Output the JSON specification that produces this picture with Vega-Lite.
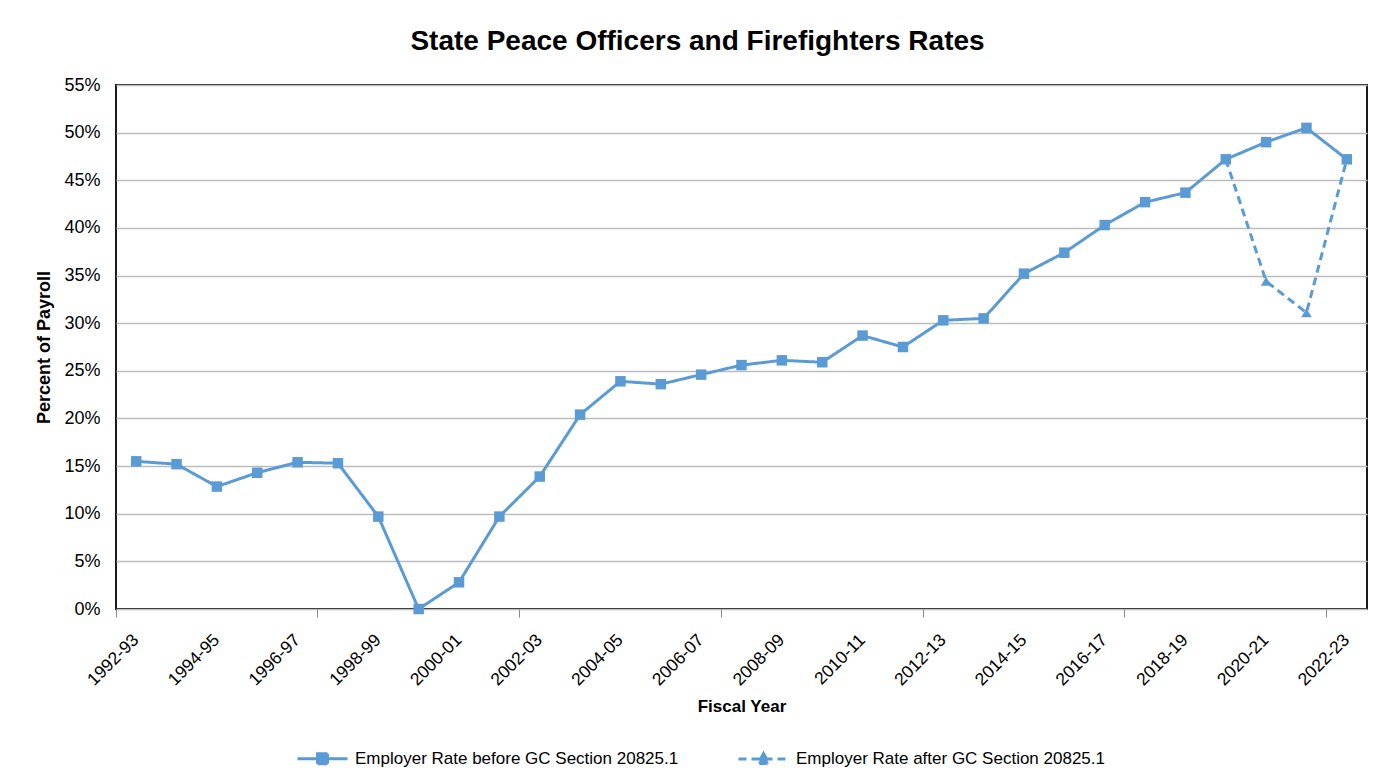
{
  "$schema": "https://vega.github.io/schema/vega-lite/v6.json",
  "width": 1251,
  "height": 524,
  "autosize": "none",
  "padding": {"left": 116, "top": 85, "right": 23, "bottom": 175},
  "background": "white",
  "title": {
    "text": "State Peace Officers and Firefighters Rates",
    "font": "Liberation Sans",
    "fontSize": 28,
    "fontWeight": "bold",
    "color": "#000000",
    "anchor": "middle",
    "dx": -44,
    "offset": 20
  },
  "data": {
    "values": [
      {"year": "1992-93", "series": "Employer Rate before GC Section 20825.1", "value": 15.5},
      {"year": "1993-94", "series": "Employer Rate before GC Section 20825.1", "value": 15.2},
      {"year": "1994-95", "series": "Employer Rate before GC Section 20825.1", "value": 12.85},
      {"year": "1995-96", "series": "Employer Rate before GC Section 20825.1", "value": 14.3},
      {"year": "1996-97", "series": "Employer Rate before GC Section 20825.1", "value": 15.4},
      {"year": "1997-98", "series": "Employer Rate before GC Section 20825.1", "value": 15.3},
      {"year": "1998-99", "series": "Employer Rate before GC Section 20825.1", "value": 9.7},
      {"year": "1999-00", "series": "Employer Rate before GC Section 20825.1", "value": 0},
      {"year": "2000-01", "series": "Employer Rate before GC Section 20825.1", "value": 2.8},
      {"year": "2001-02", "series": "Employer Rate before GC Section 20825.1", "value": 9.7},
      {"year": "2002-03", "series": "Employer Rate before GC Section 20825.1", "value": 13.9},
      {"year": "2003-04", "series": "Employer Rate before GC Section 20825.1", "value": 20.4},
      {"year": "2004-05", "series": "Employer Rate before GC Section 20825.1", "value": 23.9},
      {"year": "2005-06", "series": "Employer Rate before GC Section 20825.1", "value": 23.6},
      {"year": "2006-07", "series": "Employer Rate before GC Section 20825.1", "value": 24.6},
      {"year": "2007-08", "series": "Employer Rate before GC Section 20825.1", "value": 25.6},
      {"year": "2008-09", "series": "Employer Rate before GC Section 20825.1", "value": 26.1},
      {"year": "2009-10", "series": "Employer Rate before GC Section 20825.1", "value": 25.9},
      {"year": "2010-11", "series": "Employer Rate before GC Section 20825.1", "value": 28.7},
      {"year": "2011-12", "series": "Employer Rate before GC Section 20825.1", "value": 27.5},
      {"year": "2012-13", "series": "Employer Rate before GC Section 20825.1", "value": 30.3},
      {"year": "2013-14", "series": "Employer Rate before GC Section 20825.1", "value": 30.5},
      {"year": "2014-15", "series": "Employer Rate before GC Section 20825.1", "value": 35.2},
      {"year": "2015-16", "series": "Employer Rate before GC Section 20825.1", "value": 37.4},
      {"year": "2016-17", "series": "Employer Rate before GC Section 20825.1", "value": 40.3},
      {"year": "2017-18", "series": "Employer Rate before GC Section 20825.1", "value": 42.7},
      {"year": "2018-19", "series": "Employer Rate before GC Section 20825.1", "value": 43.7},
      {"year": "2019-20", "series": "Employer Rate before GC Section 20825.1", "value": 47.2},
      {"year": "2020-21", "series": "Employer Rate before GC Section 20825.1", "value": 49.0},
      {"year": "2021-22", "series": "Employer Rate before GC Section 20825.1", "value": 50.5},
      {"year": "2022-23", "series": "Employer Rate before GC Section 20825.1", "value": 47.2},
      {"year": "2019-20", "series": "Employer Rate after GC Section 20825.1", "value": 47.2},
      {"year": "2020-21", "series": "Employer Rate after GC Section 20825.1", "value": 34.4},
      {"year": "2021-22", "series": "Employer Rate after GC Section 20825.1", "value": 31.1},
      {"year": "2022-23", "series": "Employer Rate after GC Section 20825.1", "value": 47.2}
    ]
  },
  "encoding": {
    "y": {
      "field": "value",
      "type": "quantitative",
      "scale": {"domain": [0, 55], "nice": false, "zero": true},
      "axis": {
        "values": [0, 5, 10, 15, 20, 25, 30, 35, 40, 45, 50, 55],
        "labelExpr": "datum.value + '%'",
        "title": "Percent of Payroll",
        "titleFont": "Liberation Sans",
        "titleFontSize": 18,
        "titleFontWeight": "bold",
        "titleColor": "#000000",
        "titlePadding": 10,
        "labelFont": "Liberation Sans",
        "labelFontSize": 18,
        "labelColor": "#000000",
        "labelPadding": 16,
        "ticks": false,
        "domain": false,
        "grid": true,
        "gridColor": "#bdbdbd",
        "gridWidth": 1.5
      }
    }
  },
  "layer": [
    {
      "mark": {"type": "line", "strokeWidth": 3, "color": "#5B9BD5"},
      "encoding": {
        "x": {
          "field": "year",
          "type": "ordinal",
          "scale": {
            "type": "band",
            "paddingInner": 0,
            "paddingOuter": 0,
            "domain": ["1992-93","1993-94","1994-95","1995-96","1996-97","1997-98","1998-99","1999-00","2000-01","2001-02","2002-03","2003-04","2004-05","2005-06","2006-07","2007-08","2008-09","2009-10","2010-11","2011-12","2012-13","2013-14","2014-15","2015-16","2016-17","2017-18","2018-19","2019-20","2020-21","2021-22","2022-23"]
          },
          "axis": {
            "orient": "bottom",
            "values": ["1992-93","1994-95","1996-97","1998-99","2000-01","2002-03","2004-05","2006-07","2008-09","2010-11","2012-13","2014-15","2016-17","2018-19","2020-21","2022-23"],
            "labelAngle": -45,
            "labelAlign": "right",
            "labelBaseline": "middle",
            "labelFont": "Liberation Sans",
            "labelFontSize": 17.5,
            "labelColor": "#000000",
            "labelPadding": 28,
            "ticks": false,
            "domain": false,
            "grid": false,
            "title": "Fiscal Year",
            "titleFont": "Liberation Sans",
            "titleFontSize": 17,
            "titleFontWeight": "bold",
            "titleColor": "#000000",
            "titlePadding": 10
          }
        },
        "strokeDash": {
          "field": "series",
          "type": "nominal",
          "scale": {
            "domain": ["Employer Rate before GC Section 20825.1", "Employer Rate after GC Section 20825.1"],
            "range": [[1, 0], [8, 5]]
          },
          "legend": {
            "orient": "none",
            "legendX": 180,
            "legendY": 647,
            "direction": "horizontal",
            "title": null,
            "symbolSize": 2500,
            "symbolStrokeWidth": 3,
            "symbolStrokeColor": "#5B9BD5",
            "symbolFillColor": "#5B9BD5",
            "labelFont": "Liberation Sans",
            "labelFontSize": 17,
            "labelColor": "#000000",
            "labelLimit": 0,
            "labelOffset": 6,
            "columnPadding": 53,
            "encode": {
              "symbols": {
                "update": {
                  "shape": {"signal": "datum.value == 'Employer Rate before GC Section 20825.1' ? 'M-1,0H1M-0.2,-0.2H0.2V0.2H-0.2Z' : 'M-1,0H1M0,-0.22L0.22,0.18H-0.22Z'"},
                  "fill": {"value": "#5B9BD5"},
                  "stroke": {"value": "#5B9BD5"}
                }
              }
            }
          }
        }
      }
    },
    {
      "transform": [{"filter": "datum.series == 'Employer Rate after GC Section 20825.1'"}],
      "mark": {"type": "point", "shape": "triangle-up", "filled": true, "size": 110, "color": "#5B9BD5", "opacity": 1},
      "encoding": {
        "x": {
          "field": "year",
          "type": "ordinal",
          "axis": {
            "orient": "bottom",
            "values": ["1992-93","1997-98","2002-03","2007-08","2012-13","2017-18","2022-23"],
            "bandPosition": 0,
            "labels": false,
            "ticks": true,
            "tickSize": 8,
            "tickColor": "#8a8a8a",
            "tickWidth": 1,
            "domain": false,
            "grid": false,
            "title": null
          }
        }
      }
    },
    {
      "transform": [{"filter": "datum.series == 'Employer Rate before GC Section 20825.1'"}],
      "mark": {"type": "point", "shape": "square", "filled": true, "size": 110, "color": "#5B9BD5", "opacity": 1},
      "encoding": {
        "x": {"field": "year", "type": "ordinal", "axis": null}
      }
    }
  ],
  "resolve": {"axis": {"x": "independent"}},
  "config": {
    "view": {"stroke": "#1a1a1a", "strokeWidth": 2},
    "font": "Liberation Sans"
  }
}
